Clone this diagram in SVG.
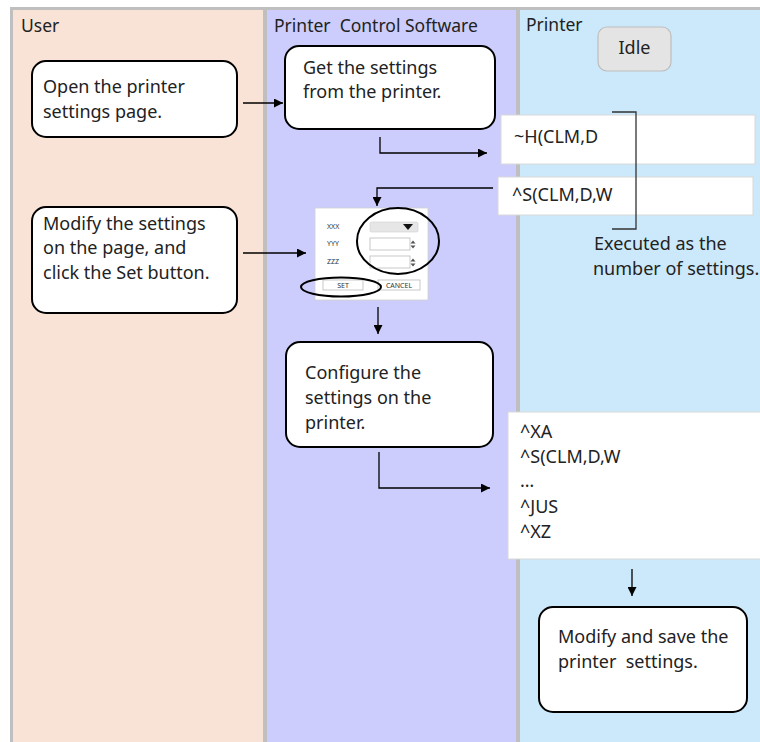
<svg xmlns="http://www.w3.org/2000/svg" width="760" height="742" viewBox="0 0 760 742">
<defs>
<marker id="ah" viewBox="0 0 10 10" refX="10" refY="5" markerWidth="9" markerHeight="9" markerUnits="userSpaceOnUse" orient="auto">
<path d="M0,0 L10,5 L0,10 Z" fill="#000"/>
</marker>
<style>
.lane-title{font-family:"Noto Sans","Open Sans","DejaVu Sans",sans-serif;font-size:17.5px;fill:#222}
.node{fill:#fff;stroke:#000;stroke-width:2}
.nt{font-family:"Noto Sans","Open Sans","DejaVu Sans",sans-serif;font-size:18px;fill:#222}
.cmd{fill:#fff;stroke:#d8d8d8;stroke-width:1}
.conn{fill:none;stroke:#000;stroke-width:1.3}
.ff{font-family:"Noto Sans","DejaVu Sans",sans-serif;font-size:7px;fill:#333}
.field{fill:#fff;stroke:#bbb;stroke-width:0.8}
</style>
</defs>
<rect width="760" height="742" fill="#fff"/>
<g id="lanes">
<rect x="11" y="8" width="253" height="734" fill="#f9e3d6"/>
<rect x="266" y="8" width="251" height="734" fill="#cccdfc"/>
<rect x="519" y="8" width="241" height="734" fill="#cce9fb"/>
<path d="M11.5,742 V8.5 H760" fill="none" stroke="#bfbfbf" stroke-width="3"/>
<line x1="265" y1="8" x2="265" y2="742" stroke="#bfbfbf" stroke-width="4"/>
<line x1="518" y1="8" x2="518" y2="742" stroke="#bfbfbf" stroke-width="4"/>
<text class="lane-title" x="21" y="32">User</text>
<text class="lane-title" x="274" y="32" xml:space="preserve">Printer  Control Software</text>
<text class="lane-title" x="526" y="31">Printer</text>
</g>
<g id="idle">
<rect x="598" y="27" width="73" height="44" rx="9" fill="#e4e4e4" stroke="#bdbdbd" stroke-width="1.2"/>
<text class="nt" x="634.5" y="54" text-anchor="middle" font-size="16">Idle</text>
</g>
<g id="open-page">
<rect class="node" x="32" y="61" width="205" height="76" rx="14"/>
<text class="nt" x="43" y="93">Open the printer</text>
<text class="nt" x="43" y="118">settings page.</text>
</g>
<g id="get-settings">
<rect class="node" x="285" y="46" width="210" height="83" rx="14"/>
<text class="nt" x="303" y="74">Get the settings</text>
<text class="nt" x="303" y="98">from the printer.</text>
</g>
<g id="cmd-get">
<rect class="cmd" x="501" y="115" width="254" height="49"/>
<text class="nt" x="514" y="143">~H(CLM,D</text>
</g>
<g id="cmd-set">
<rect class="cmd" x="498" y="177" width="255" height="38"/>
<text class="nt" x="512" y="201">^S(CLM,D,W</text>
</g>
<g id="bracket">
<path d="M612,112 H636 V229 H612" fill="none" stroke="#333" stroke-width="1.3"/>
<text class="nt" x="594" y="250">Executed as the</text>
<text class="nt" x="593" y="275">number of settings.</text>
</g>
<g id="modify-settings">
<rect class="node" x="32" y="207" width="205" height="106" rx="14"/>
<text class="nt" x="43" y="230">Modify the settings</text>
<text class="nt" x="43" y="254">on the page, and</text>
<text class="nt" x="43" y="279">click the Set button.</text>
</g>
<g id="settings-form">
<rect x="315" y="208" width="113" height="92" fill="#fff" stroke="#d0d0d0" stroke-width="0.8"/>
<text class="ff" x="327" y="229">XXX</text>
<text class="ff" x="327" y="246">YYY</text>
<text class="ff" x="327" y="264">ZZZ</text>
<rect x="370" y="222" width="48" height="10" rx="1.5" fill="#e6e6e6" stroke="#d0d0d0" stroke-width="0.6"/>
<path d="M403,224 L413,224 L408,230 Z" fill="#111"/>
<rect class="field" x="370" y="238" width="40" height="12"/>
<path d="M413,240.5 L415.5,243.5 L410.5,243.5 Z M413,248.5 L415.5,245.5 L410.5,245.5 Z" fill="#555"/>
<rect class="field" x="370" y="256" width="40" height="12"/>
<path d="M413,258.5 L415.5,261.5 L410.5,261.5 Z M413,266.5 L415.5,263.5 L410.5,263.5 Z" fill="#555"/>
<rect class="field" x="323" y="280" width="40" height="10"/>
<text class="ff" x="343" y="288" text-anchor="middle">SET</text>
<rect class="field" x="378" y="280" width="42" height="10"/>
<text class="ff" x="399" y="288" text-anchor="middle">CANCEL</text>
<ellipse cx="398" cy="241" rx="41" ry="33" fill="none" stroke="#000" stroke-width="2"/>
<ellipse cx="341" cy="287" rx="40" ry="9.5" fill="none" stroke="#000" stroke-width="2"/>
</g>
<g id="configure">
<rect class="node" x="286" y="342" width="207" height="105" rx="14"/>
<text class="nt" x="305" y="379">Configure the</text>
<text class="nt" x="305" y="404">settings on the</text>
<text class="nt" x="305" y="429">printer.</text>
</g>
<g id="cmd-batch">
<rect class="cmd" x="508" y="412" width="260" height="147"/>
<text class="nt" x="520" y="438">^XA</text>
<text class="nt" x="520" y="463">^S(CLM,D,W</text>
<text class="nt" x="520" y="487">…</text>
<text class="nt" x="520" y="513">^JUS</text>
<text class="nt" x="520" y="538">^XZ</text>
</g>
<g id="save">
<rect class="node" x="539" y="607" width="208" height="105" rx="14"/>
<text class="nt" x="558" y="643">Modify and save the</text>
<text class="nt" x="558" y="668" xml:space="preserve">printer  settings.</text>
</g>
<g id="connectors">
<line class="conn" x1="243" y1="103" x2="283" y2="103" marker-end="url(#ah)"/>
<path class="conn" d="M380,137 V153 H487" marker-end="url(#ah)"/>
<path class="conn" d="M493,188 H377 V206" marker-end="url(#ah)"/>
<line class="conn" x1="243" y1="253" x2="306" y2="253" marker-end="url(#ah)"/>
<line class="conn" x1="378" y1="307" x2="378" y2="334" marker-end="url(#ah)"/>
<path class="conn" d="M379,452 V488 H490" marker-end="url(#ah)"/>
<line class="conn" x1="632" y1="569" x2="632" y2="596" marker-end="url(#ah)"/>
</g>
</svg>
